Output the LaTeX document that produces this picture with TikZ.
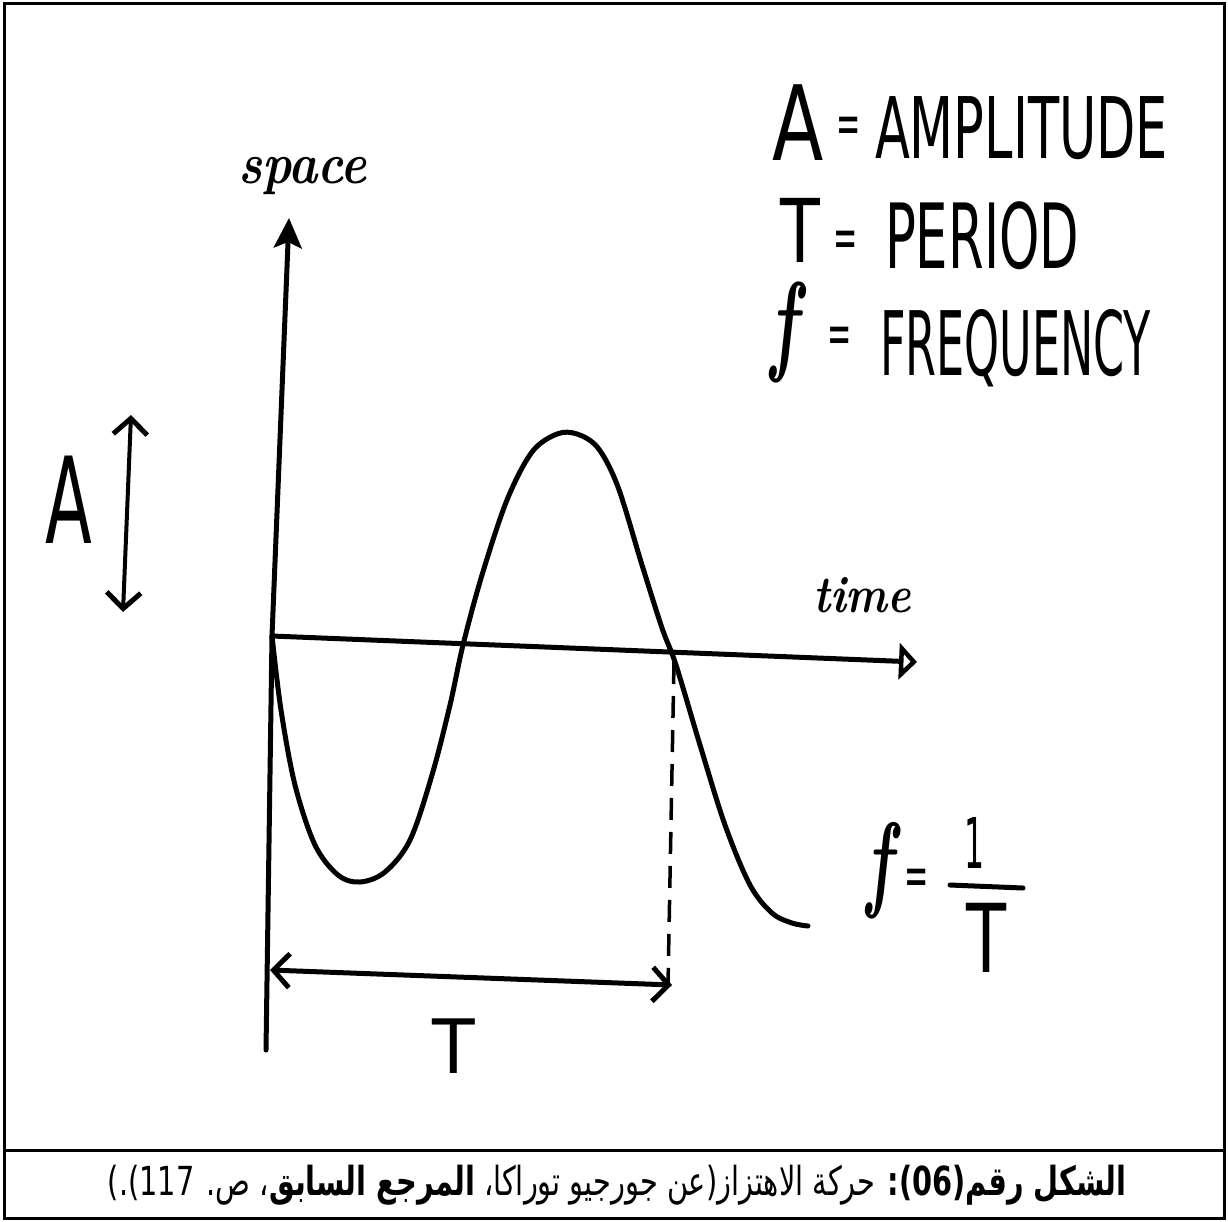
\documentclass[tikz,border=0pt]{standalone}
\usepackage{fontspec}
\usetikzlibrary{arrows.meta}
\newfontfamily\handfont{DejaVu Sans}
\newfontfamily\arabicfont[Script=Arabic]{DejaVu Sans}
\TeXXeTstate=1
\newcommand{\hand}[3]{\scalebox{#2}[1]{\handfont\fontsize{#1}{#1}\selectfont #3}}
\newcommand{\itf}[2]{\scalebox{#2}[1]{\fontsize{#1}{#1}\selectfont\bfseries\itshape f}}
\newcommand{\scr}[3]{\scalebox{#2}[1]{\fontsize{#1}{#1}\selectfont\bfseries\itshape #3}}
\tikzset{
  barb/.tip={Straight Barb[length=16pt,width=34pt,line width=5pt]},
  otri/.tip={Triangle[open,length=18pt,width=36pt,line width=5pt]},
  ftip/.tip={Stealth[length=30pt,width=28pt,inset=6pt]}}
\begin{document}
\begin{tikzpicture}[x=1pt,y=-1pt,
  frame/.style={line width=3pt},
  ink/.style={line width=5pt, line cap=round, line join=round},
  txt/.style={inner sep=0pt, outer sep=0pt, anchor=base west}]
\useasboundingbox (0,0) rectangle (1228,1221);
% frame
\draw[frame] (4,3) rectangle (1224,1218);
\draw[frame] (4,1150) -- (1224,1150);

% axes
\coordinate (O) at (272,636);
\coordinate (ytop) at (289,218);
\coordinate (ybot) at (266,1050);
\coordinate (xend) at (917,662);
\draw[ink, -{ftip}] (ybot) -- (O) -- (ytop);
\draw[ink, -{otri}] (O) -- (xend);
\node[txt] (space) at (238,183) {\scr{58}{0.85}{space}};
\node[txt] (time) at (813,612) {\scr{52}{0.85}{time}};

% wave
\draw[ink] plot[smooth, tension=0.55] coordinates {
 (272,636) (281,710) (295,785) (315,845) (338,875) (360,882) (385,872)
 (410,840) (432,775) (450,705) (463,645) (482,575) (507,500) (532,452)
 (557,434) (577,434) (598,448) (618,487) (642,565) (662,628) (676,665)
 (700,745) (725,825) (750,885) (772,913) (792,923) (808,926)};

% dashed period marker
\coordinate (dtop) at (674,662);
\coordinate (dbot) at (668,985);
\draw[line width=3.5pt, dash pattern=on 22pt off 12pt] (dtop) -- (dbot);

% T arrow
\coordinate (Tl) at (270,970);
\coordinate (Tr) at (672,985);
\draw[ink, {barb}-{barb}] (Tl) -- (Tr);
\node[txt] (Tlab) at (432,1073) {\hand{75}{0.93}{T}};

% A arrow
\coordinate (Atop) at (131,415);
\coordinate (Abot) at (123,612);
\draw[line width=4pt, line cap=round, {barb}-{barb}] (Atop) -- (Abot);
\node[txt] (Alab) at (45,543) {\hand{120}{0.57}{A}};

% legend
\node[txt] (lA) at (772,160) {\hand{104}{0.72}{A}};
\node[txt] (lAeq) at (836,143) {\hand{58}{0.5}{=}};
\node[txt] (lAmp) at (875,158) {\hand{85}{0.6}{AMPLITUDE}};
\node[txt] (lT) at (780,262) {\hand{88}{0.74}{T}};
\node[txt] (lTeq) at (833,257) {\hand{58}{0.5}{=}};
\node[txt] (lPer) at (885,268) {\hand{90}{0.57}{PERIOD}};
\node[txt] (lf) at (770,360) {\itf{112}{0.6}};
\node[txt] (lfeq) at (827,353) {\hand{58}{0.5}{=}};
\node[txt] (lFreq) at (880,375) {\hand{89}{0.5}{FREQUENCY}};

% f = 1/T
\node[txt] (ff) at (866,897) {\itf{107}{0.6}};
\node[txt] (feq) at (904,895) {\hand{58}{0.5}{=}};
\node[txt] (fone) at (964,868) {\hand{70}{0.45}{1}};
\coordinate (barL) at (950,885);
\coordinate (barR) at (1023,888);
\draw[ink] (barL) -- (barR);
\node[txt] (fT) at (966,972) {\hand{95}{0.69}{T}};

% caption
\node[inner sep=0pt] (cap) at (617,1185) {\scalebox{0.72}[1]{\arabicfont\fontsize{40}{44}\selectfont\beginR{\bfseries الشكل رقم(06):} حركة الاهتزاز(عن جورجيو توراكا، {\bfseries المرجع السابق}، ص. ^^^^200f117).)\endR}};
\end{tikzpicture}
\end{document}
